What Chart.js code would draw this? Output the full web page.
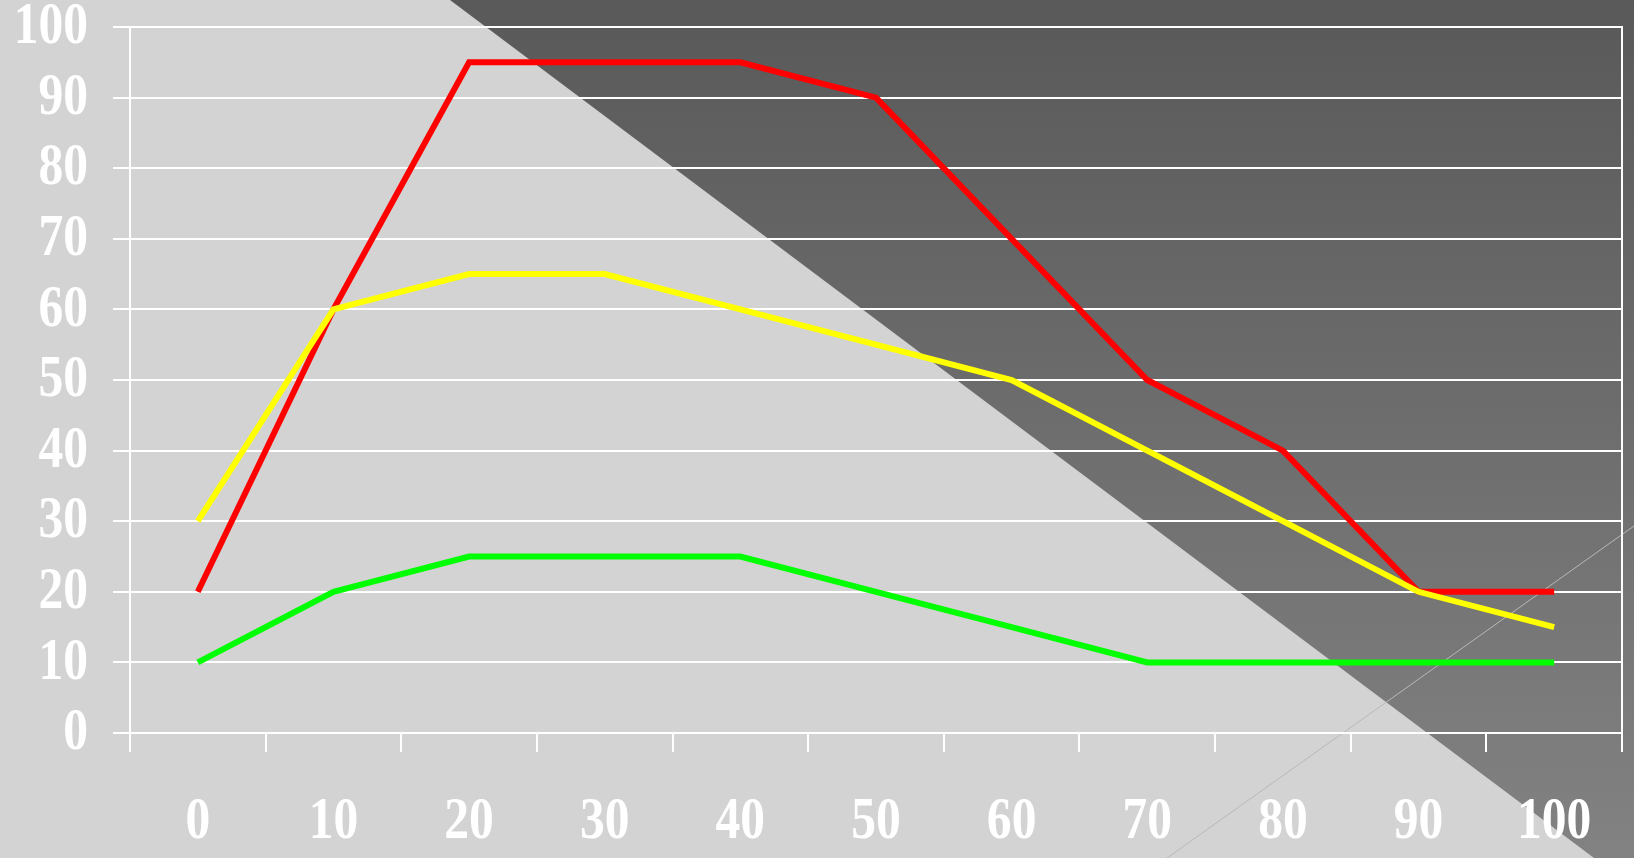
<!DOCTYPE html>
<html>
<head>
<meta charset="utf-8">
<script src="https://cdn.jsdelivr.net/npm/chart.js@4/dist/chart.umd.min.js"></script>
<style>
    html, body { margin: 0; padding: 0; background: #d3d3d3; overflow: hidden; }
    canvas { display: block; }
</style>
</head>
<body>
<canvas id="chart" width="1634" height="858"></canvas>
<script>
const categories = ['0', '10', '20', '30', '40', '50', '60', '70', '80', '90', '100'];
const redValues = [20, 60, 95, 95, 95, 90, 70, 50, 40, 20, 20];
const yellowValues = [30, 60, 65, 65, 60, 55, 50, 40, 30, 20, 15];
const greenValues = [10, 20, 25, 25, 25, 20, 15, 10, 10, 10, 10];
const yMin = 0;
const yMax = 100;
const yStep = 10;

const fontFamily = "'Times New Roman', 'Liberation Serif', serif";
const labelFont = { family: fontFamily, size: 55, weight: 'bold' };

// light grey page with a dark shaded triangle in the top right, plus a faint diagonal line
const backdrop = {
    id: 'backdrop',
    beforeDraw(chart) {
        const ctx = chart.ctx;
        const w = chart.width, h = chart.height;
        ctx.save();
        ctx.fillStyle = '#d3d3d3';
        ctx.fillRect(0, 0, w, h);
        const g = ctx.createLinearGradient(0, 0, 0, h);
        g.addColorStop(0, '#595959');
        g.addColorStop(1, '#828282');
        ctx.fillStyle = g;
        ctx.beginPath();
        ctx.moveTo(450, 0);
        ctx.lineTo(w, 0);
        ctx.lineTo(w, h);
        ctx.lineTo(1594, h);
        ctx.closePath();
        ctx.fill();
        ctx.strokeStyle = '#b8b8b8';
        ctx.lineWidth = 1;
        ctx.beginPath();
        ctx.moveTo(1167, h);
        ctx.lineTo(w, 526);
        ctx.stroke();
        ctx.restore();
    }
};

// the tick labels in the original are tall and narrow, so draw them squeezed
// at the positions the scales give
const narrowLabels = {
    id: 'narrowLabels',
    afterDraw(chart) {
        const ctx = chart.ctx;
        const squeeze = 0.84;
        ctx.save();
        ctx.fillStyle = '#ffffff';
        ctx.font = 'bold 59px ' + fontFamily;
        ctx.textBaseline = 'middle';

        const xs = chart.scales.x;
        ctx.textAlign = 'center';
        xs.ticks.forEach((t, i) => {
            ctx.save();
            ctx.translate(xs.getPixelForTick(i), 823);
            ctx.scale(squeeze, 1);
            ctx.fillText(xs.getLabelForValue(t.value), 0, 0);
            ctx.restore();
        });

        const ys = chart.scales.y;
        ctx.textAlign = 'right';
        ys.ticks.forEach((t, i) => {
            ctx.save();
            ctx.translate(88, ys.getPixelForTick(i) + 1);
            ctx.scale(squeeze, 1);
            ctx.fillText(String(t.value), 0, 0);
            ctx.restore();
        });
        ctx.restore();
    }
};

function line(data, color) {
    return {
        data: data,
        borderColor: color,
        backgroundColor: color,
        borderWidth: 6,
        pointRadius: 0,
        fill: false,
        tension: 0,
        borderCapStyle: 'butt',
        borderJoinStyle: 'miter'
    };
}

new Chart(document.getElementById('chart'), {
    type: 'line',
    data: {
        labels: categories,
        datasets: [
            line(yellowValues, '#ffff00'),
            line(redValues, '#ff0000'),
            line(greenValues, '#00ff00')
        ]
    },
    options: {
        responsive: false,
        animation: false,
        devicePixelRatio: 1,
        layout: { padding: { top: 27, right: 12, left: 0, bottom: 0 } },
        plugins: { legend: { display: false }, tooltip: { enabled: false } },
        scales: {
            x: {
                offset: true,
                grid: { offset: true, drawOnChartArea: false, color: '#ffffff', lineWidth: 2, tickLength: 19 },
                border: { color: '#ffffff', width: 2 },
                ticks: { color: 'rgba(0,0,0,0)', font: labelFont, padding: 38, maxRotation: 0, autoSkip: false },
                afterFit(s) { s.height = 125; s.paddingLeft = 0; s.paddingRight = 0; }
            },
            y: {
                min: yMin,
                max: yMax,
                grid: { color: '#ffffff', lineWidth: 2, tickLength: 17 },
                border: { color: '#ffffff', width: 2 },
                ticks: { stepSize: yStep, color: 'rgba(0,0,0,0)', font: labelFont, padding: 25 },
                afterFit(s) { s.width = 130; s.paddingTop = 0; s.paddingBottom = 0; }
            },
            y2: {
                position: 'right',
                grid: { display: false },
                ticks: { display: false },
                border: { display: true, color: '#ffffff', width: 2 },
                afterFit(s) { s.width = 0; s.paddingTop = 0; s.paddingBottom = 0; }
            }
        }
    },
    plugins: [backdrop, narrowLabels]
});
</script>
</body>
</html>
